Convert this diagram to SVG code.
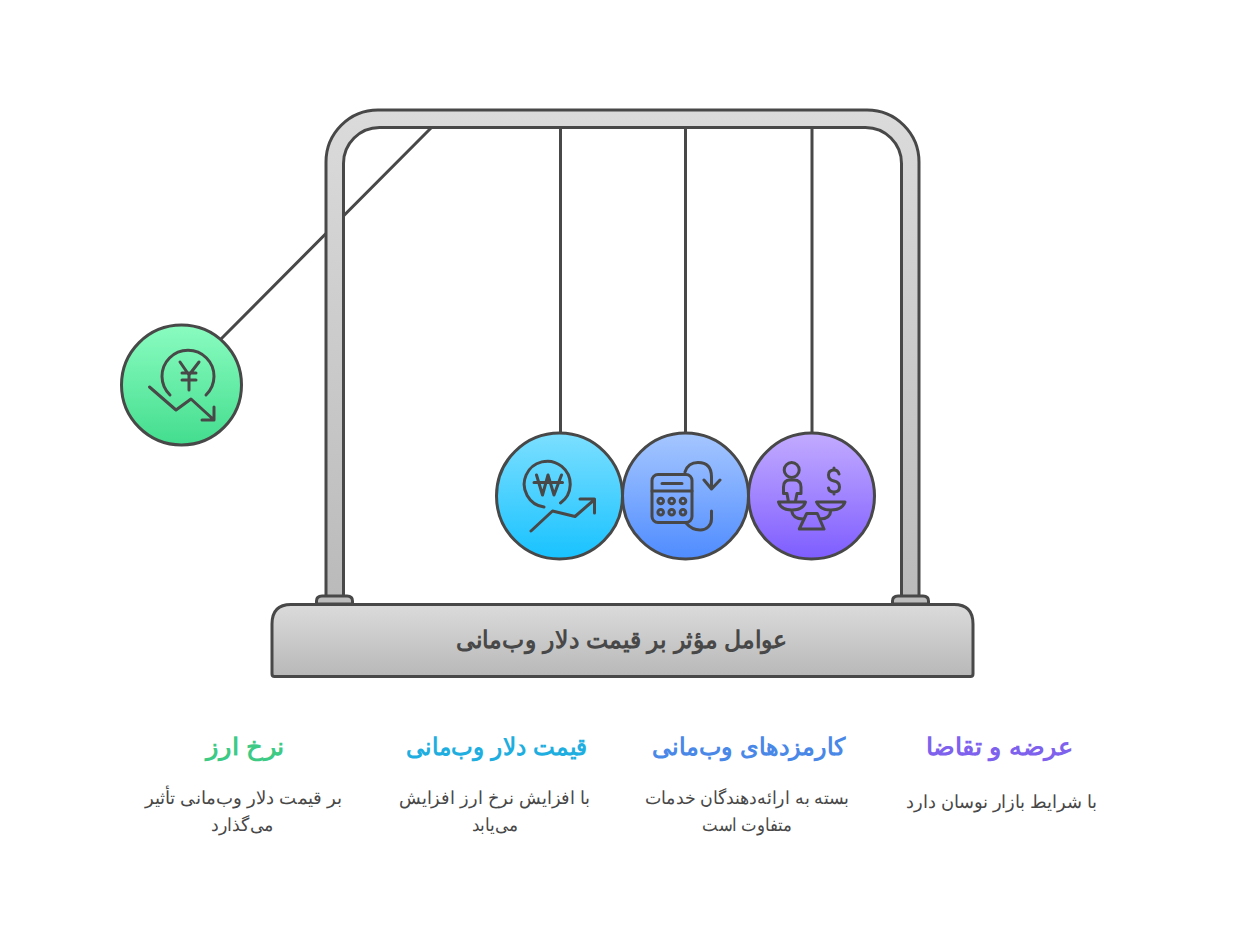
<svg xmlns="http://www.w3.org/2000/svg" width="1245" height="930" viewBox="0 0 1245 930">
<style>
.o{stroke:#484848;stroke-width:3;fill:none;stroke-linejoin:round}
.i{stroke:#484848;stroke-width:3;fill:none;stroke-linecap:round;stroke-linejoin:round}
.c{stroke:#484848;stroke-width:3}
text{font-family:"Liberation Sans",sans-serif;direction:rtl;text-anchor:middle}
.h{font-size:24px;font-weight:bold}
.b{font-size:18px;fill:#484848}
</style>
<defs>
<linearGradient id="gf" gradientUnits="userSpaceOnUse" x1="0" y1="110" x2="0" y2="600"><stop offset="0" stop-color="#dbdbdb"/><stop offset="1" stop-color="#bababa"/></linearGradient>
<linearGradient id="gba" x1="0" y1="0" x2="0" y2="1"><stop offset="0" stop-color="#dbdbdb"/><stop offset="1" stop-color="#b8b8b8"/></linearGradient>
<linearGradient id="gg" x1="0" y1="0" x2="0" y2="1"><stop offset="0" stop-color="#8afcc0"/><stop offset="1" stop-color="#43dd8e"/></linearGradient>
<linearGradient id="gc" x1="0" y1="0" x2="0" y2="1"><stop offset="0" stop-color="#7cdfff"/><stop offset="1" stop-color="#18c2ff"/></linearGradient>
<linearGradient id="gb" x1="0" y1="0" x2="0" y2="1"><stop offset="0" stop-color="#a6c7ff"/><stop offset="1" stop-color="#4f8cff"/></linearGradient>
<linearGradient id="gp" x1="0" y1="0" x2="0" y2="1"><stop offset="0" stop-color="#c2abff"/><stop offset="1" stop-color="#7e5dff"/></linearGradient>
</defs>
<g id="connectors">
<path class="c" d="M431,128L221,339M560.500,128V433M685.500,128V433M812,128V433"/>
</g>
<g id="frame">
<path class="o" style="fill:url(#gf)" d="M326,597V162A52,52 0 0 1 378,110H867A52,52 0 0 1 919,162V597H901.500V163.500A36,36 0 0 0 865.500,127.500H379.500A36,36 0 0 0 343.500,163.500V597Z"/>
<path class="o" style="fill:#bdbdbd" d="M316.500,604V601Q316.500,596 322,596H347Q352.500,596 352.500,601V604Z"/>
<path class="o" style="fill:#bdbdbd" d="M892.500,604V601Q892.500,596 898,596H923Q928.500,596 928.500,601V604Z"/>
</g>
<g id="base">
<path class="o" style="fill:url(#gba)" d="M272,674V624Q272,604.500 291,604.500H954Q973,604.500 973,624V674Q973,676.500 970.500,676.500H274.500Q272,676.500 272,674Z"/>
<text x="621.500" y="648" class="h" fill="#484848" textLength="331" lengthAdjust="spacingAndGlyphs">عوامل مؤثر بر قیمت دلار وب‌مانی</text>
</g>
<g id="node-exchange">
<circle class="o" style="fill:url(#gg)" cx="181.500" cy="385" r="60"/>
<path class="i" d="M170,395A26,26 0 1 1 206,395M180,362L189,375L199,362M189,375V390M182,373H196M182,380H196M149.500,387L176,410L191,399L214,420M202,420H214V407"/>
<text x="245.500" y="755" class="h" fill="#3cca85" textLength="79" lengthAdjust="spacingAndGlyphs">نرخ ارز</text>
<text x="243.500" y="804" class="b" textLength="197" lengthAdjust="spacingAndGlyphs">بر قیمت دلار وب‌مانی تأثیر</text>
<text x="242.500" y="831" class="b" textLength="63" lengthAdjust="spacingAndGlyphs">می‌گذارد</text>
</g>
<g id="node-price">
<circle class="o" style="fill:url(#gc)" cx="559.500" cy="496" r="63"/>
<path class="i" d="M544,507A23,23 0 1 1 560.500,503M536.500,475L542.500,495L548,475L554,495L561.500,475M534,482.500H562.500M531,531L552.500,511L575,516.500L594,500M580,499H594.500V513"/>
<text x="496.500" y="755" class="h" fill="#1eaee0" textLength="181" lengthAdjust="spacingAndGlyphs">قیمت دلار وب‌مانی</text>
<text x="494.500" y="804" class="b" textLength="191" lengthAdjust="spacingAndGlyphs">با افزایش نرخ ارز افزایش</text>
<text x="495" y="831" class="b" textLength="46" lengthAdjust="spacingAndGlyphs">می‌یابد</text>
</g>
<g id="node-fees">
<circle class="o" style="fill:url(#gb)" cx="685.500" cy="496" r="63"/>
<rect class="i" x="652" y="474.500" width="40" height="48" rx="6"/>
<path class="i" d="M652,491H692M662,483.500H682M685,472Q688,462.500 698,462.500Q711.500,462.500 711.500,477V488M704,480L711.500,489L720,480M711.500,511V519A11,11 0 0 1 700,530Q692,530 686,523"/>
<g class="i"><circle cx="660.700" cy="501" r="2.800"/><circle cx="671.700" cy="501" r="2.800"/><circle cx="683" cy="501" r="2.800"/><circle cx="660.700" cy="512.300" r="2.800"/><circle cx="671.700" cy="512.300" r="2.800"/><circle cx="683" cy="512.300" r="2.800"/></g>
<text x="748.500" y="755" class="h" fill="#4a88e8" textLength="193" lengthAdjust="spacingAndGlyphs">کارمزدهای وب‌مانی</text>
<text x="747" y="804" class="b" textLength="204" lengthAdjust="spacingAndGlyphs">بسته به ارائه‌دهندگان خدمات</text>
<text x="747" y="831" class="b" textLength="90" lengthAdjust="spacingAndGlyphs">متفاوت است</text>
</g>
<g id="node-supply">
<circle class="o" style="fill:url(#gp)" cx="811.500" cy="496" r="63"/>
<circle class="i" cx="791.700" cy="470" r="7.500"/>
<path class="i" d="M788.300,501L787,493.500H783.500V487Q783.500,480 790,480H794Q801,480 801,487V493.500H797L795.500,501M778.500,502H805.500Q803,510 792,510Q781,510 778.500,502ZM816.500,502H845Q842,510 831,510Q820,510 816.500,502ZM806.700,513.500H817.300L824,529H799.300ZM791.700,511Q793,519 803,519M830.700,511Q830,519 820,519M839,474Q838,470 834,470Q828.500,470 828.500,475Q828.500,480 834,481Q839.500,482 839.500,487Q839.500,492 834,492Q829,492 828.500,488M834,468V470M834,492V494"/>
<text x="999.500" y="755" class="h" fill="#7e62ee" textLength="147" lengthAdjust="spacingAndGlyphs">عرضه و تقاضا</text>
<text x="1001.500" y="808" class="b" textLength="191" lengthAdjust="spacingAndGlyphs">با شرایط بازار نوسان دارد</text>
</g>
</svg>
